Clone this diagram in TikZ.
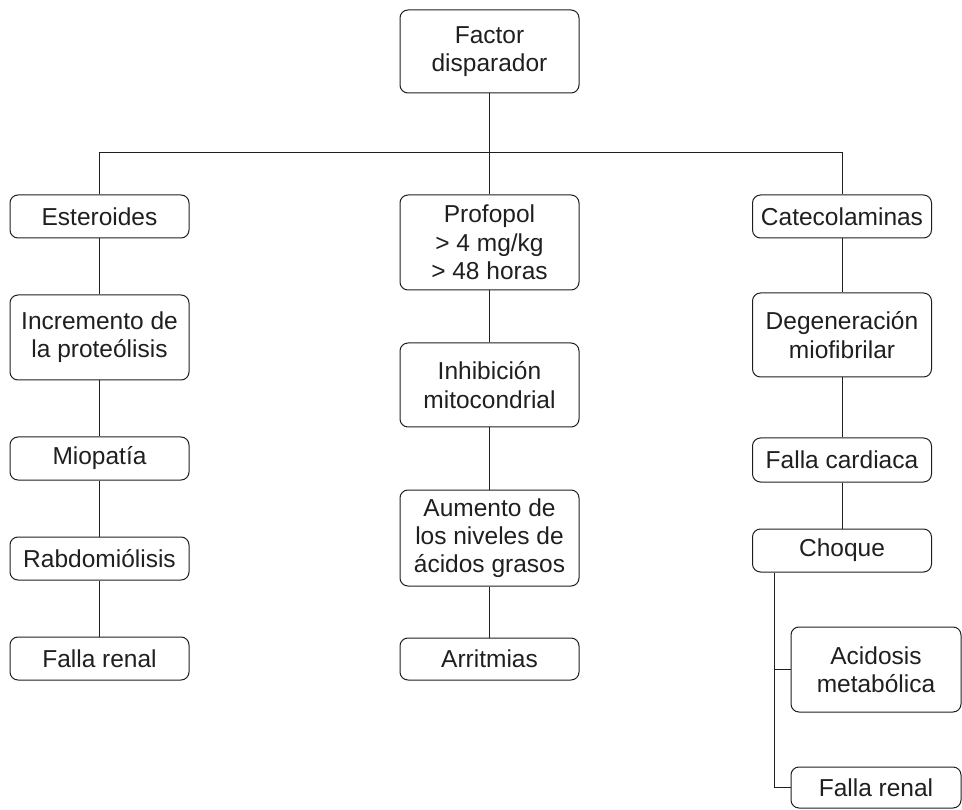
\documentclass[tikz,border=0pt]{standalone}
\usepackage{fontspec}
\setmainfont{Liberation Sans}
\usepackage{tikz}

\begin{document}
\begin{tikzpicture}[x=1pt, y=-1pt, line width=1pt, color=black!88,
    box/.style={draw, rounded corners=8pt, align=center, inner sep=0pt,
      minimum width=179pt, font=\fontsize{24.5}{28.3}\selectfont},
    sidebox/.style={box, minimum width=170pt}]
    \useasboundingbox (0,0) rectangle (962,810);

    % draw top box
    \node[box, minimum height=83pt] (factor) at (489.5,51.5) {Factor\\disparador};

    % draw left column
    \node[box, minimum height=43pt] (esteroides) at (99.5,216.5) {Esteroides};
    \node[box, minimum height=85pt] (incremento) at (99.5,337.5) {Incremento de\\la proteólisis};
    \node[box, minimum height=43pt] (miopatia) at (99.5,458.5) {Miopatía};
    \node[box, minimum height=43pt] (rabdo) at (99.5,558.5) {Rabdomiólisis};
    \node[box, minimum height=43pt] (renalL) at (99.5,658.5) {Falla renal};

    % draw middle column
    \node[box, minimum height=95pt] (profopol) at (489.5,242.5) {Profopol\\> 4 mg/kg\\> 48 horas};
    \node[box, minimum height=84pt] (inhibicion) at (489.5,385) {Inhibición\\mitocondrial};
    \node[box, minimum height=96pt] (aumento) at (489.5,538) {Aumento de\\los niveles de\\ácidos grasos};
    \node[box, minimum height=42pt] (arritmias) at (489.5,659) {Arritmias};

    % draw right column
    \node[box, minimum height=43pt] (catecol) at (842,216.5) {Catecolaminas};
    \node[box, minimum height=84pt] (degeneracion) at (842,335) {Degeneración\\miofibrilar};
    \node[box, minimum height=44pt] (cardiaca) at (842,460) {Falla cardiaca};
    \node[box, minimum height=43pt] (choque) at (842,550.5) {Choque};
    \node[sidebox, minimum height=85pt] (acidosis) at (876,669.5) {Acidosis\\metabólica};
    \node[sidebox, minimum height=41pt] (renalR) at (876,787.5) {Falla renal};

    % draw bus from the top box
    \coordinate (bus) at (490,153);
    \coordinate (fork) at (774,0);
    \draw (factor) -- (profopol);
    \draw (esteroides.north) -- (esteroides.north |- bus) -- (catecol.north |- bus) -- (catecol.north);

    % draw chains
    \draw (esteroides) -- (incremento) -- (miopatia) -- (rabdo) -- (renalL);
    \draw (profopol) -- (inhibicion) -- (aumento) -- (arritmias);
    \draw (catecol) -- (degeneracion) -- (cardiaca) -- (choque);

    % draw branch under Choque
    \draw (choque.south -| fork) |- (renalR.west);
    \draw (acidosis.west) -- (acidosis.west -| fork);
\end{tikzpicture}
\end{document}
